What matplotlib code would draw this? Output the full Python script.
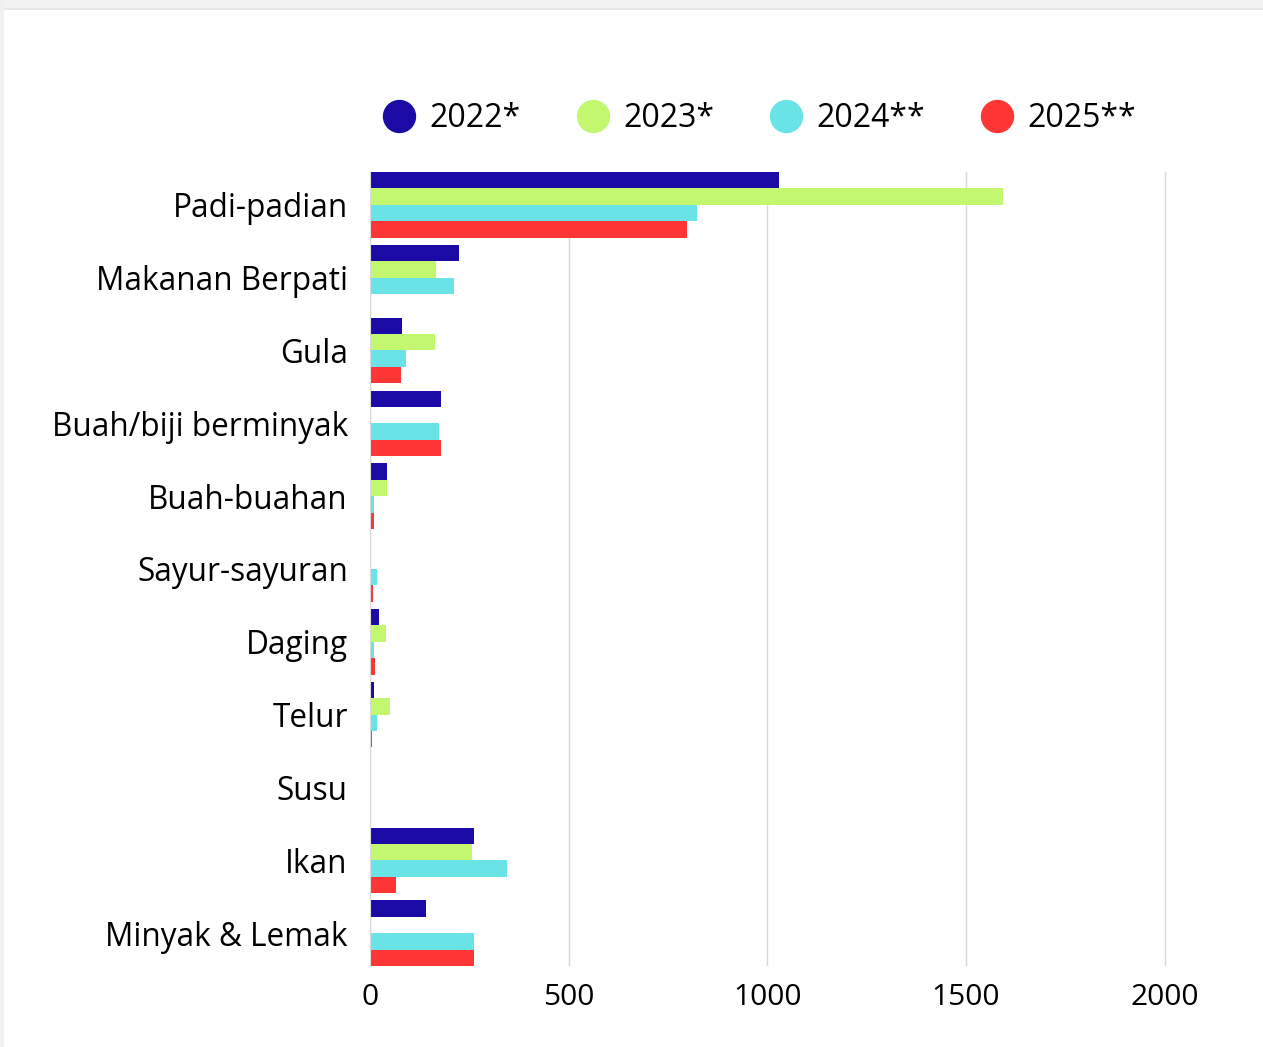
import numpy as np
import matplotlib.pyplot as plt
from matplotlib.lines import Line2D
from matplotlib.patches import Rectangle

plt.rcParams['font.family'] = ['Open Sans', 'DejaVu Sans']

# Data
categories = ["Padi-padian", "Makanan Berpati", "Gula", "Buah/biji berminyak",
              "Buah-buahan", "Sayur-sayuran", "Daging", "Telur", "Susu",
              "Ikan", "Minyak & Lemak"]
series = ["2022*", "2023*", "2024**", "2025**"]
v2022 = [1030, 224, 81, 179, 43, 2, 22, 10, 3, 262, 141]
v2023 = [1594, 166, 164, 3, 43, 0, 40, 50, 2, 257, 0]
v2024 = [824, 212, 91, 174, 10, 18, 10, 18, 0, 345, 262]
v2025 = [798, 0, 78, 179, 10, 7, 13, 5, 0, 65, 262]
colors = ["#1b0aa6", "#c3f76f", "#6ae3e6", "#fd3535"]

values = [v2022, v2023, v2024, v2025]

fig = plt.figure(figsize=(12.63, 10.47), dpi=100)
ax = fig.add_axes([0.293, 0.0774, 0.9236 - 0.293, 0.8357 - 0.0774])

# card border look
fig.patches.append(Rectangle((0, 1 - 8 / 1047), 1, 8 / 1047, transform=fig.transFigure,
                             facecolor="#f2f2f2", edgecolor="none", zorder=0))
fig.patches.append(Rectangle((0, 1 - 10 / 1047), 1, 2 / 1047, transform=fig.transFigure,
                             facecolor="#e6e6e6", edgecolor="none", zorder=0))
fig.patches.append(Rectangle((0, 0), 4 / 1263, 1, transform=fig.transFigure,
                             facecolor="#f0f0f0", edgecolor="none", zorder=0))

y = np.arange(len(categories))
h = 0.225
for i, (vals, c) in enumerate(zip(values, colors)):
    ax.barh(y + (i - 1.5) * h, vals, height=h, color=c, label=series[i], zorder=2)

ax.set_xlim(0, 2005)
ax.set_ylim(len(categories) - 1 + 2 * h, -2 * h)
ax.set_yticks(y)
ax.set_yticklabels(categories, fontsize=22.7)
ax.set_xticks([0, 500, 1000, 1500, 2000])
ax.tick_params(axis='x', labelsize=21.5, length=0, pad=12)
ax.tick_params(axis='y', length=0, pad=16)
ax.grid(axis='x', color="#d9d9d9", linewidth=1, zorder=0)
for s in ["top", "right", "bottom"]:
    ax.spines[s].set_visible(False)
ax.spines["left"].set_color("#d9d9d9")

handles = [Line2D([], [], marker='o', linestyle='none', markersize=23,
                  markerfacecolor=c, markeredgecolor=c) for c in colors]
ax.legend(handles, series, loc='center', bbox_to_anchor=(0.489, 1.067), ncol=4,
          frameon=False, fontsize=23, handletextpad=0.45, columnspacing=1.75,
          handlelength=1.0)

fig.savefig("out.png", dpi=100, facecolor="white")
